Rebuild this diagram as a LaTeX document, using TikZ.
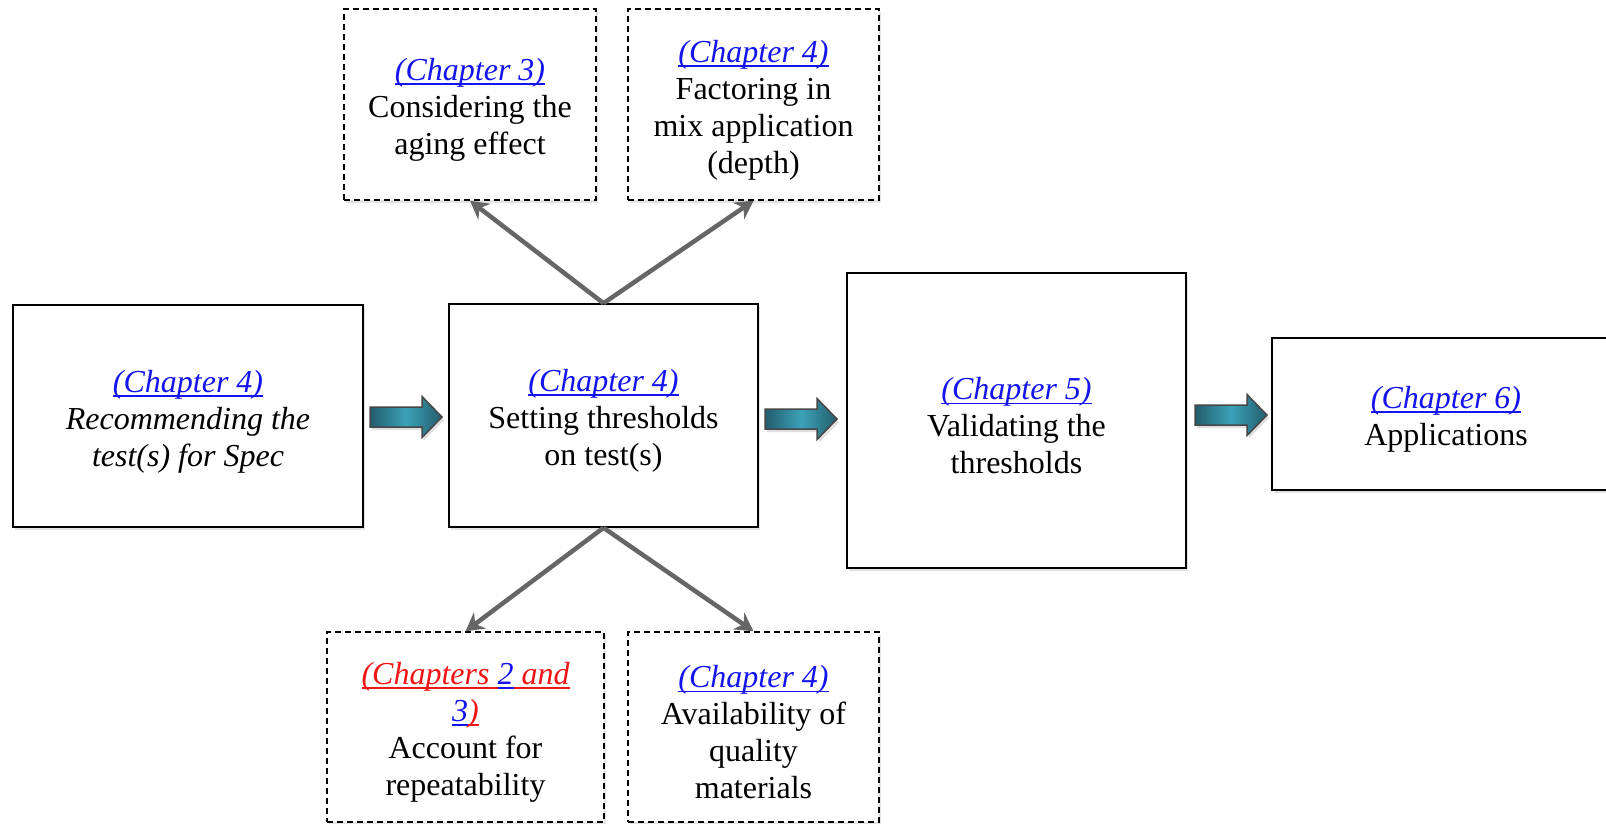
\documentclass[tikz,border=0pt]{standalone}
\usepackage{fontspec}
\setmainfont{Liberation Serif}
\usetikzlibrary{shadows,arrows.meta}
\definecolor{linkblue}{RGB}{20,20,238}
\definecolor{linkred}{RGB}{240,20,20}
\definecolor{arrowgrey}{RGB}{102,102,102}
\definecolor{tealdark}{RGB}{34,92,108}
\definecolor{teallight}{RGB}{60,162,184}
\newsavebox\ulkbox
\newcommand\ulk[1]{\sbox\ulkbox{#1}\rlap{\rule[-4.5pt]{\wd\ulkbox}{1.8pt}}\usebox\ulkbox}
\newcommand\chapl[1]{\textcolor{linkblue}{\ulk{\itshape #1}}}
\newcommand\chapr[1]{\textcolor{linkred}{\ulk{\itshape #1}}}
\newcommand\tstr{\rule{0pt}{33pt}}
\newcommand\blockarr[2]{%
  \draw[blockarrow] (#1,#2-10) -- ++(52,0) -- ++(0,-10.5) -- ++(20,20.5)
    -- ++(-20,20.5) -- ++(0,-10.5) -- ++(-52,0) -- cycle;}
\begin{document}
\begin{tikzpicture}[x=1pt,y=-1pt,
  box/.style={draw=black, line width=1.6pt, fill=white, inner sep=0pt,
    align=center, font=\fontsize{32}{37}\selectfont,
    drop shadow={opacity=0.22, shadow xshift=2pt, shadow yshift=-3pt}},
  dbox/.style={box, dash pattern=on 6pt off 4pt, line width=1.5pt},
  greyarrow/.style={draw=arrowgrey, line width=4.5pt,
    -{Stealth[length=18pt,width=20pt]}},
  blockarrow/.style={draw=black!72, line width=1.5pt,
    left color=tealdark, right color=tealdark, middle color=teallight,
    drop shadow={opacity=0.25, shadow xshift=2pt, shadow yshift=-3pt}}]
\useasboundingbox (0,0) rectangle (1606,824);

\node[box, minimum width=350pt, minimum height=222pt] (b1) at (188,416)
  {\tstr\chapl{(Chapter 4)}\\\itshape Recommending the\\\itshape test(s) for Spec};
\node[box, minimum width=309pt, minimum height=223pt] (b2) at (603.5,415.5)
  {\tstr\chapl{(Chapter 4)}\\Setting thresholds\\on test(s)};
\node[box, minimum width=339pt, minimum height=295pt] (b3) at (1016.5,420.5)
  {\tstr\chapl{(Chapter 5)}\\Validating the\\thresholds};
\node[box, minimum width=348pt, minimum height=152pt] (b4) at (1446,414)
  {\tstr\chapl{(Chapter 6)}\\Applications};

\node[dbox, minimum width=252pt, minimum height=191pt] (d1) at (470,104.5)
  {\tstr\chapl{(Chapter 3)}\\Considering the\\aging effect};
\node[dbox, minimum width=251pt, minimum height=191pt] (d2) at (753.5,104.5)
  {\tstr\chapl{(Chapter 4)}\\Factoring in\\mix application\\(depth)};
\node[dbox, minimum width=277pt, minimum height=190pt] (d3) at (465.5,727)
  {\tstr\chapr{(Chapters }\chapl{2}\chapr{ and}\\\chapl{3}\chapr{)}\\Account for\\repeatability};
\node[dbox, minimum width=251pt, minimum height=190pt] (d4) at (753.5,727)
  {\tstr\chapl{(Chapter 4)}\\Availability of\\quality\\materials};

\draw[greyarrow] (b2.north) -- (d1.south);
\draw[greyarrow] (b2.north) -- (d2.south);
\draw[greyarrow] (b2.south) -- (d3.north);
\draw[greyarrow] (b2.south) -- (d4.north);

\blockarr{370}{417}
\blockarr{765}{419}
\blockarr{1195}{415}
\end{tikzpicture}
\end{document}
